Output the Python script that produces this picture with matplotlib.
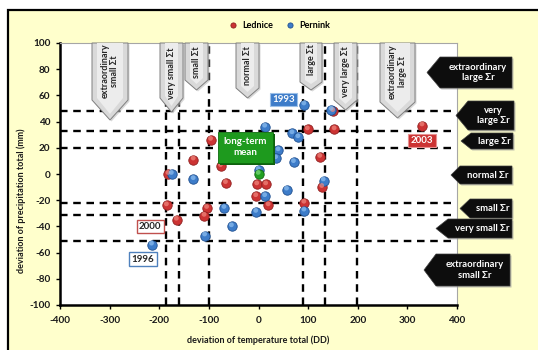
import matplotlib
matplotlib.use("Agg")
import matplotlib.pyplot as plt
from matplotlib.patches import Polygon, Rectangle
from matplotlib.transforms import Affine2D, ScaledTranslation

plt.rcParams['font.family'] = ['Lato', 'DejaVu Sans']
plt.rcParams['font.weight'] = 'bold'

# deviations of temperature total (DD) and precipitation total (mm)
lednice_dt = [-96, -131, -76, -66, -3, 15, -5, 20, 92, 124, 128, 99, 153, 150,
              -104, -109, -165, -185, -182, 330]
lednice_dr = [26, 11, 6, -7, -8, -8, -17, -24, -22, 13, -10, 34, 34, 48,
              -26, -32, -35, -24, 0, 37]
pernink_dt = [92, 147, 13, 68, 80, 40, 35, 71, 0, 57, 13, -69, -5, -54,
              131, 92, -175, -131, -108, -215]
pernink_dr = [53, 49, 36, 31, 28, 18, 12, 9, 3, -12, -17, -26, -29, -40,
              -5, -28, 0, -4, -47, -54]
mean_dt = [0]
mean_dr = [0]

# class limits of temperature and precipitation deviations
t_limits = [-187, -160, -100, 90, 135, 198]
r_limits = [48, 33, 20, -22, -31, -51]

x_ticks = [-400, -300, -200, -100, 0, 100, 200, 300, 400]
y_ticks = [-100, -80, -60, -40, -20, 0, 20, 40, 60, 80, 100]

W, H = 538, 350
fig = plt.figure(figsize=(W / 100, H / 100), dpi=100)
fig.patch.set_facecolor('white')
px = Affine2D().scale(1 / W, -1 / H).translate(0, 1) + fig.transFigure

# chart frame
fig.add_artist(Rectangle((8, 10), 560, 380, transform=px, facecolor='#FFFFCC',
                         edgecolor='black', linewidth=1.6, zorder=0))

ax = fig.add_axes([60 / W, 1 - 305 / H, 397 / W, 262 / H])
ax.set_facecolor('white')
ax.set_xlim(-400, 400)
ax.set_ylim(-100, 100)
ax.set_xticks(x_ticks, labels=[str(v) for v in x_ticks], fontweight='bold',
              fontsize=7.2, color='#1a1a1a')
ax.set_yticks(y_ticks, labels=[str(v) for v in y_ticks], fontweight='bold',
              fontsize=7.2, color='#1a1a1a')
ax.tick_params(axis='x', direction='out', length=3, width=1, pad=5)
ax.tick_params(axis='y', direction='out', length=3, width=1, pad=4)
for s in ['left', 'bottom']:
    ax.spines[s].set_linewidth(1.8)
    ax.spines[s].set_color('black')
for s in ['top', 'right']:
    ax.spines[s].set_linewidth(0.8)
    ax.spines[s].set_color('#a6a6a6')

# class limit lines
for t in t_limits:
    ax.plot([t, t], [-100, 100], color='black', lw=1.7, dashes=(3.2, 2.4),
            zorder=2, clip_on=False)
for r in r_limits:
    ax.plot([-400, 390], [r, r], color='black', lw=1.7, dashes=(3.2, 2.4),
            zorder=2)

# downward callouts for temperature classes (pixel coordinates)
top_callouts = [
    (92, 128, 100, 120, 'extraordinary\nsmall Σt', 71),
    (160, 183, 98, 112, 'very small Σt', 73),
    (185, 208, 80, 90, 'small Σt', 62),
    (236, 259, 88, 98, 'normal Σt', 66),
    (300, 322, 82, 90, 'large Σt', 60),
    (334, 357, 100, 110, 'very large Σt', 72),
    (380, 415, 102, 118, 'extraordinary\nlarge Σt', 72),
]
for x0, x1, yb, tip, label, ty in top_callouts:
    xc = (x0 + x1) / 2
    pts = [(x0, 43), (x1, 43), (x1, yb), (xc, tip), (x0, yb)]
    ax.add_patch(Polygon([(x + 1.5, y + 1.5) for x, y in pts], closed=True,
                         transform=px, facecolor='#bfbfbf', edgecolor='none',
                         alpha=0.6, zorder=3, clip_on=False))
    ax.add_patch(Polygon(pts, closed=True, transform=px, facecolor='#d9d9d9',
                         edgecolor='#7f7f7f', lw=0.7, zorder=3.2, clip_on=False))
    inner = [(x0 + 5, 43), (x1 - 5, 43), (x1 - 5, yb - 2), (xc, tip - 6),
             (x0 + 5, yb - 2)]
    ax.add_patch(Polygon(inner, closed=True, transform=px, facecolor='#ececec',
                         edgecolor='none', zorder=3.3, clip_on=False))
    ax.text(xc, ty, label, transform=px, rotation=90, ha='center', va='center',
            fontsize=6.5, color='#262626', fontweight='bold', linespacing=1.1,
            zorder=3.5)

# left-pointing callouts for precipitation classes (pixel coordinates)
right_callouts = [
    (427, 440, 512, 57, 88, 'extraordinary\nlarge Σr'),
    (456, 468, 514, 101, 130, 'very\nlarge Σr'),
    (461, 471, 513, 133, 149, 'large Σr'),
    (451, 460, 512, 166, 184, 'normal Σr'),
    (460, 470, 512, 199, 218, 'small Σr'),
    (436, 448, 512, 219, 238, 'very small Σr'),
    (424, 436, 510, 254, 286, 'extraordinary\nsmall Σr'),
]
for tip, xs, x1, y0, y1, label in right_callouts:
    yc = (y0 + y1) / 2
    pts = [(tip, yc), (xs, y0), (x1, y0), (x1, y1), (xs, y1)]
    ax.add_patch(Polygon([(x + 1.5, y + 1.5) for x, y in pts], closed=True,
                         transform=px, facecolor='#999999', edgecolor='none',
                         alpha=0.6, zorder=3, clip_on=False))
    ax.add_patch(Polygon(pts, closed=True, transform=px, facecolor='#0d0d0d',
                         edgecolor='#404040', lw=0.5, zorder=3.2, clip_on=False))
    ax.text((xs + x1) / 2 + 2, yc, label, transform=px, ha='center',
            va='center', fontsize=6.8, color='white', fontweight='bold',
            linespacing=1.2, zorder=3.5)

# station points drawn as shaded spheres
lift = ScaledTranslation(-0.3 / 100, 1.6 / 100, fig.dpi_scale_trans)
series = [
    (lednice_dt, lednice_dr, '#cc3333', '#8f1f1f', '#f08a80', 'Lednice'),
    (pernink_dt, pernink_dr, '#3d7cc9', '#1f4f8f', '#8fc0f0', 'Pernink'),
]
handles = []
for dt, dr, col, edge, hi, name in series:
    h = ax.scatter(dt, dr, s=46, color=col, edgecolor=edge, linewidth=0.6,
                   zorder=5, label=name)
    ax.scatter(dt, dr, s=12, color=hi, edgecolor='none', alpha=0.7,
               zorder=5.1, transform=ax.transData + lift)
    handles.append(h)
ax.scatter(mean_dt, mean_dr, s=46, color='#22a022', edgecolor='#146414',
           linewidth=0.6, zorder=5.2)
ax.scatter(mean_dt, mean_dr, s=12, color='#7fdc7f', edgecolor='none',
           alpha=0.7, zorder=5.3, transform=ax.transData + lift)

leg = ax.legend(handles=handles, loc='center', ncol=2, frameon=False,
                bbox_to_anchor=(277 / W, 1 - 25 / H),
                bbox_transform=fig.transFigure, fontsize=6.5,
                handletextpad=0.05, columnspacing=0.9, markerscale=0.55,
                borderpad=0)
for t in leg.get_texts():
    t.set_fontweight('bold')

# year and mean labels
ax.text(283.5, 99.5, '1993', transform=px, ha='center', va='center',
        fontsize=7, color='white', fontweight='bold', zorder=6,
        bbox=dict(boxstyle='square,pad=0.25', facecolor='#3d7cc9',
                  edgecolor='#9cc0e8', lw=0.8))
ax.text(422, 140.5, '2003', transform=px, ha='center', va='center',
        fontsize=7, color='white', fontweight='bold', zorder=6,
        bbox=dict(boxstyle='square,pad=0.25', facecolor='#cc3333',
                  edgecolor='#e89090', lw=0.8))
ax.text(150.3, 226.5, '2000', transform=px, ha='center', va='center',
        fontsize=7, color='#262626', fontweight='bold', zorder=6,
        bbox=dict(boxstyle='square,pad=0.25', facecolor='white',
                  edgecolor='#c0504d', lw=1.0))
ax.text(143, 259, '1996', transform=px, ha='center', va='center',
        fontsize=7, color='#262626', fontweight='bold', zorder=6,
        bbox=dict(boxstyle='square,pad=0.25', facecolor='white',
                  edgecolor='#4f81bd', lw=1.0))
ax.add_patch(Rectangle((220, 133.5), 54.5, 31, transform=px,
                       facecolor='#0f5f0f', edgecolor='none', zorder=5.4,
                       clip_on=False))
ax.add_patch(Rectangle((218.3, 131.7), 54.5, 31, transform=px,
                       facecolor='#1e9a1e', edgecolor='#0d6b0d', lw=0.6,
                       zorder=5.5, clip_on=False))
ax.text(245.5, 147.2, 'long-term\nmean', transform=px, ha='center',
        va='center', fontsize=7, color='white', fontweight='bold',
        linespacing=1.3, zorder=5.6)

# axis titles
ax.text(258, 340, 'deviation of temperature total (DD)', transform=px,
        ha='center', va='center', fontsize=6.5, fontweight='bold',
        color='#1a1a1a')
ax.text(21, 201, 'deviation of precipitation total (mm)', transform=px,
        ha='center', va='center', rotation=90, fontsize=6.5,
        fontweight='bold', color='#1a1a1a')

fig.savefig('out.png', dpi=100)
